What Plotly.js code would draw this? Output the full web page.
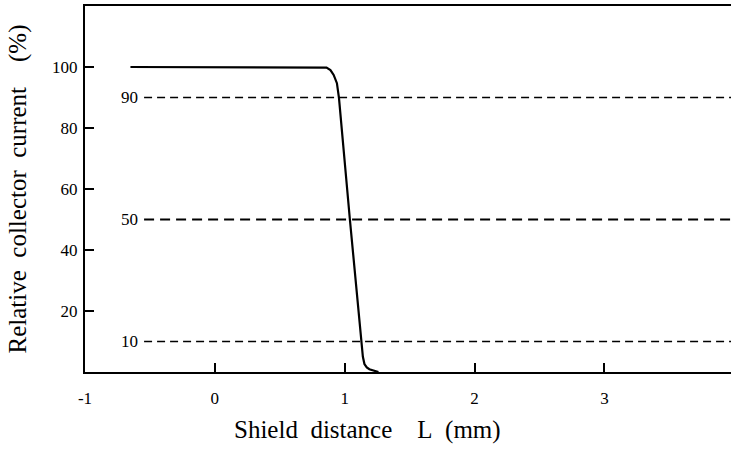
<!DOCTYPE html>
<html>
<head>
<meta charset="utf-8">
<script src="https://cdn.plot.ly/plotly-3.0.1.min.js"></script>
<style>html,body{margin:0;padding:0;background:#fff;}#chart{width:731px;height:454px;}</style>
</head>
<body>
<div id="chart"></div>
<script>
// Measured curve: shield distance L (mm) vs relative collector current (%)
const distance = [-0.65, 0.82, 0.86, 0.89, 0.915, 0.94, 0.956, 1.04, 1.125, 1.14, 1.152, 1.17, 1.19, 1.23, 1.26];
const current  = [100, 100, 99.8, 99, 97.4, 94.7, 89.8, 50, 10, 5, 2.6, 1.5, 0.9, 0.3, 0];

// Reference levels (dashed lines)
const levels = [90, 50, 10];
const levelLabels = ["90", "50", "10"];
const levelStart = -0.545;
const levelEnd = 4.2;

// Axis ticks
const xTicks = [-1, 0, 1, 2, 3];
const xTickText = ["-1", "0", "1", "2", "3"];
const yTicks = [20, 40, 60, 80, 100];
const yTickText = ["20", "40", "60", "80", "100"];

const xTitle = "Shield\u00a0\u00a0distance\u00a0\u00a0\u00a0\u00a0L\u00a0\u00a0(mm)";
const yTitle = "Relative\u00a0\u00a0collector\u00a0\u00a0current\u00a0\u00a0\u00a0\u00a0(%)";

const serif = "Liberation Serif";

const traces = [];
levels.forEach((lv, i) => {
  traces.push({
    x: [levelStart, levelEnd],
    y: [lv, lv],
    mode: "lines",
    line: {color: "#000", width: lv === 50 ? 2 : 1.6, dash: lv === 50 ? "10px,6px" : "8px,5px"},
    hoverinfo: "skip",
    showlegend: false
  });
});
traces.push({
  x: distance,
  y: current,
  mode: "lines",
  line: {color: "#000", width: 2.2},
  showlegend: false
});

const annotations = levels.map((lv, i) => ({
  x: levelStart - 0.03,
  y: lv,
  xref: "x",
  yref: "y",
  text: levelLabels[i],
  showarrow: false,
  xanchor: "right",
  yanchor: "middle",
  font: {family: serif, size: 17, color: "#000"}
}));
// x-axis title (offset left of plot centre, as in the original figure)
annotations.push({
  x: 0.437,
  y: 0,
  xref: "paper",
  yref: "paper",
  yshift: -42,
  xanchor: "center",
  yanchor: "top",
  text: xTitle,
  showarrow: false,
  font: {family: serif, size: 25, color: "#000"}
});

const layout = {
  width: 731,
  height: 454,
  margin: {l: 85, r: 0, t: 6, b: 82},
  paper_bgcolor: "#fff",
  plot_bgcolor: "#fff",
  showlegend: false,
  font: {family: serif, color: "#000"},
  xaxis: {
    range: [-1, 3.975],
    tickvals: xTicks,
    ticktext: xTickText,
    ticks: "inside",
    ticklen: 9,
    tickwidth: 2,
    tickcolor: "#000",
    showline: true,
    linecolor: "#000",
    linewidth: 2,
    mirror: true,
    showgrid: false,
    zeroline: false,
    ticklabelstandoff: 10,
    tickfont: {family: serif, size: 17, color: "#000"}
  },
  yaxis: {
    range: [0, 120],
    tickvals: yTicks,
    ticktext: yTickText,
    ticks: "inside",
    ticklen: 9,
    tickwidth: 2,
    tickcolor: "#000",
    showline: true,
    linecolor: "#000",
    linewidth: 2,
    mirror: false,
    showgrid: false,
    zeroline: false,
    ticklabelstandoff: 2,
    tickfont: {family: serif, size: 17, color: "#000"},
    title: {text: yTitle, font: {family: serif, size: 25, color: "#000"}, standoff: 18}
  },
  annotations: annotations
};

Plotly.newPlot("chart", traces, layout, {displayModeBar: false, staticPlot: true});
</script>
</body>
</html>
